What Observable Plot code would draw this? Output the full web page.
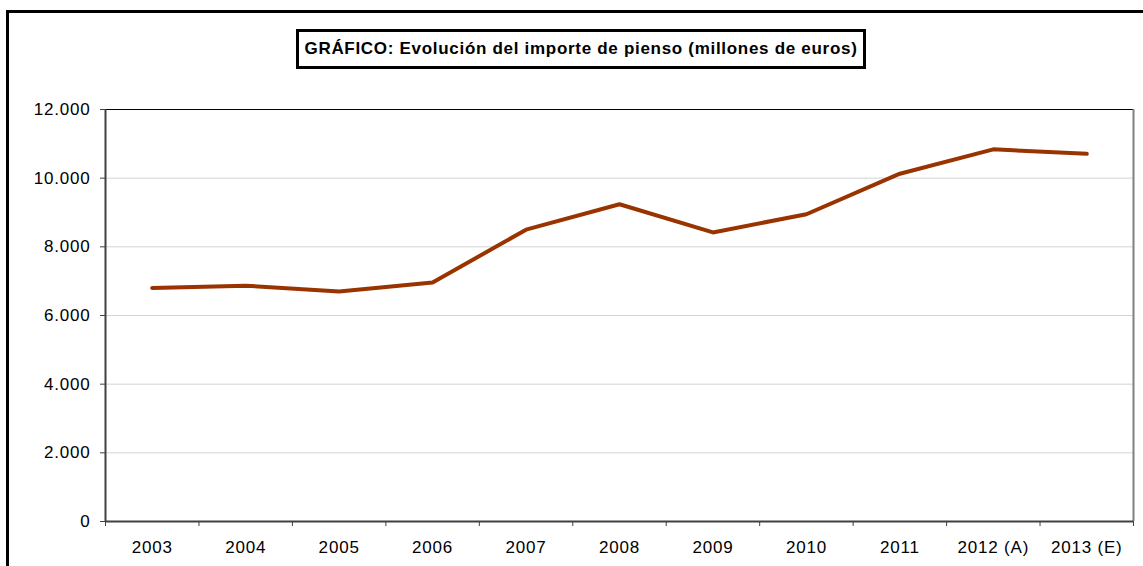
<!DOCTYPE html>
<html>
<head>
<meta charset="utf-8">
<script src="https://cdn.jsdelivr.net/npm/d3@7"></script>
<script src="https://cdn.jsdelivr.net/npm/@observablehq/plot@0.6"></script>
<style>
  html, body { margin: 0; padding: 0; background: #fff; overflow: hidden; }
  #wrap { position: relative; width: 1143px; height: 566px; font-family: "Liberation Sans", Arial, sans-serif; }
  #frame { position: absolute; left: 6px; top: 10px; width: 1160px; height: 600px; border: 3px solid #000; box-sizing: border-box; pointer-events: none; }
  #title { position: absolute; left: 296px; top: 29px; width: 570px; height: 40px; border: 3px solid #000; box-sizing: border-box; background: #fff;
           font-weight: bold; font-size: 17px; letter-spacing: 0.7px; display: flex; align-items: center; justify-content: center; white-space: nowrap; color: #000; }
  #chart { position: absolute; left: 0; top: 0; }
  #chart svg text { letter-spacing: 0.8px; }
</style>
</head>
<body>
<div id="wrap">
  <div id="chart"></div>
  <div id="frame"></div>
  <div id="title">GRÁFICO: Evolución del importe de pienso (millones de euros)</div>
</div>
<script>
const categories = ["2003", "2004", "2005", "2006", "2007", "2008", "2009", "2010", "2011", "2012 (A)", "2013 (E)"];
const values = [6800, 6870, 6700, 6960, 8500, 9240, 8420, 8950, 10130, 10840, 10710];
const yTicks = [0, 2000, 4000, 6000, 8000, 10000, 12000];

const data = categories.map((c, i) => ({i, c, v: values[i]}));
const idx = categories.map((c, i) => i);
const bounds = [-0.5, ...idx.map(i => i + 0.5)];
const fmt = d3.formatLocale({decimal: ",", thousands: ".", grouping: [3], currency: ["", "€"]}).format(",d");

const chart = Plot.plot({
  width: 1143,
  height: 566,
  marginLeft: 105,
  marginRight: 10,
  marginTop: 109,
  marginBottom: 45,
  style: {fontFamily: "'Liberation Sans', Arial, sans-serif", background: "transparent", color: "#000"},
  x: {type: "linear", domain: [-0.5, categories.length - 0.5], label: null},
  y: {domain: [0, 12000], label: null},
  marks: [
    Plot.gridY(yTicks, {stroke: "#d4d4d4", strokeOpacity: 1, strokeWidth: 1}),
    Plot.ruleY([12000], {stroke: "#000", strokeWidth: 1}),
    Plot.ruleX([categories.length - 0.5], {stroke: "#808080", strokeWidth: 2}),
    Plot.axisY(yTicks, {label: null, tickSize: 5, tickPadding: 10, tickFormat: fmt, fontSize: 17, stroke: "#404040"}),
    Plot.axisX(bounds, {label: null, tickSize: 5, tickFormat: () => "", stroke: "#404040"}),
    Plot.axisX(idx, {label: null, tickSize: 0, tickPadding: 19, tickFormat: i => categories[i], fontSize: 17}),
    Plot.ruleX([-0.5], {stroke: "#404040", strokeWidth: 2}),
    Plot.ruleY([0], {stroke: "#404040", strokeWidth: 2}),
    Plot.line(data, {x: "i", y: "v", stroke: "#993300", strokeWidth: 4})
  ]
});
document.getElementById("chart").appendChild(chart);
</script>
</body>
</html>
